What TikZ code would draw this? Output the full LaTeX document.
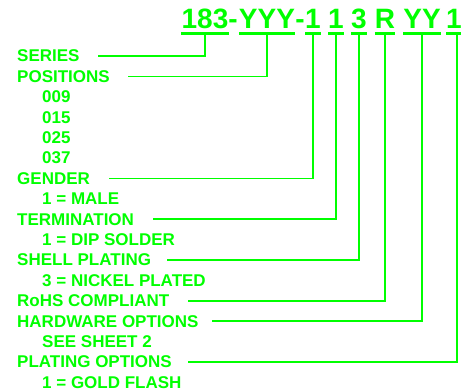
\documentclass[tikz,border=0pt]{standalone}
\usepackage{fontspec}
\setmainfont{Liberation Sans}
\definecolor{lime}{RGB}{0,255,0}
\pgfdeclarelayer{edgelayer}
\pgfdeclarelayer{nodelayer}
\pgfsetlayers{edgelayer,nodelayer,main}
\tikzstyle{none}=[inner sep=0pt]
\tikzstyle{partno}=[inner xsep=0pt,inner ysep=5pt,text height=20pt,text depth=0pt,text=lime,font=\fontsize{28}{32}\selectfont\bfseries]
\tikzstyle{field}=[anchor=west,inner sep=0pt,text=lime,font=\fontsize{17}{20}\selectfont\bfseries]
\tikzstyle{simple}=[-,draw=lime,line width=1.5pt]
\tikzstyle{underline}=[-,draw=lime,line width=2.6pt]

\begin{document}
\begin{tikzpicture}[x=1pt,y=-1pt]
	\useasboundingbox (0,0) rectangle (461,391);
	\begin{pgfonlayer}{nodelayer}
		\node [style=partno] (0) at (205, 18) {183};
		\node [style=partno] (1) at (233, 18) {-};
		\node [style=partno] (2) at (267, 18) {YYY};
		\node [style=partno] (3) at (300, 18) {-};
		\node [style=partno] (4) at (313, 18) {1};
		\node [style=partno] (5) at (336, 18) {1};
		\node [style=partno] (6) at (359, 18) {3};
		\node [style=partno] (7) at (385, 18) {R};
		\node [style=partno] (8) at (422, 18) {YY};
		\node [style=partno] (9) at (454, 18) {1};
		\node [style=field] (10) at (17, 56) {SERIES};
		\node [style=field] (11) at (17, 76.4) {POSITIONS};
		\node [style=field] (12) at (42, 96.8) {009};
		\node [style=field] (13) at (42, 117.2) {015};
		\node [style=field] (14) at (42, 137.6) {025};
		\node [style=field] (15) at (42, 158) {037};
		\node [style=field] (16) at (17, 178.4) {GENDER};
		\node [style=field] (17) at (42, 198.8) {1 = MALE};
		\node [style=field] (18) at (17, 219.2) {TERMINATION};
		\node [style=field] (19) at (42, 239.6) {1 = DIP SOLDER};
		\node [style=field] (20) at (17, 260) {SHELL PLATING};
		\node [style=field] (21) at (42, 280.4) {3 = NICKEL PLATED};
		\node [style=field] (22) at (17, 300.8) {RoHS COMPLIANT};
		\node [style=field] (23) at (17, 321.2) {HARDWARE OPTIONS};
		\node [style=field] (24) at (42, 341.6) {SEE SHEET 2};
		\node [style=field] (25) at (17, 362) {PLATING OPTIONS};
		\node [style=field] (26) at (42, 382.4) {1 = GOLD FLASH};
		\node [style=none] (30) at (98, 56) {};
		\node [style=none] (31) at (128, 76.4) {};
		\node [style=none] (32) at (109, 178.4) {};
		\node [style=none] (33) at (153, 219.2) {};
		\node [style=none] (34) at (167, 260) {};
		\node [style=none] (35) at (188, 300.8) {};
		\node [style=none] (36) at (212, 321.2) {};
		\node [style=none] (37) at (188, 362) {};
		\node [style=none] (38) at (457, 33) {};
	\end{pgfonlayer}
	\begin{pgfonlayer}{edgelayer}
		\draw [style=underline] (0.south west) to (0.south east);
		\draw [style=underline] (2.south west) to (2.south east);
		\draw [style=underline] (4.south west) to (4.south east);
		\draw [style=underline] (5.south west) to (5.south east);
		\draw [style=underline] (6.south west) to (6.south east);
		\draw [style=underline] (7.south west) to (7.south east);
		\draw [style=underline] (8.south west) to (8.south east);
		\draw [style=underline] (9.south west) to (9.south east);
		\draw [style=simple] (30.center) -| (0.south);
		\draw [style=simple] (31.center) -| (2.south);
		\draw [style=simple] (32.center) -| (4.south);
		\draw [style=simple] (33.center) -| (5.south);
		\draw [style=simple] (34.center) -| (6.south);
		\draw [style=simple] (35.center) -| (7.south);
		\draw [style=simple] (36.center) -| (8.south);
		\draw [style=simple] (37.center) -| (38.center);
	\end{pgfonlayer}
\end{tikzpicture}
\end{document}
